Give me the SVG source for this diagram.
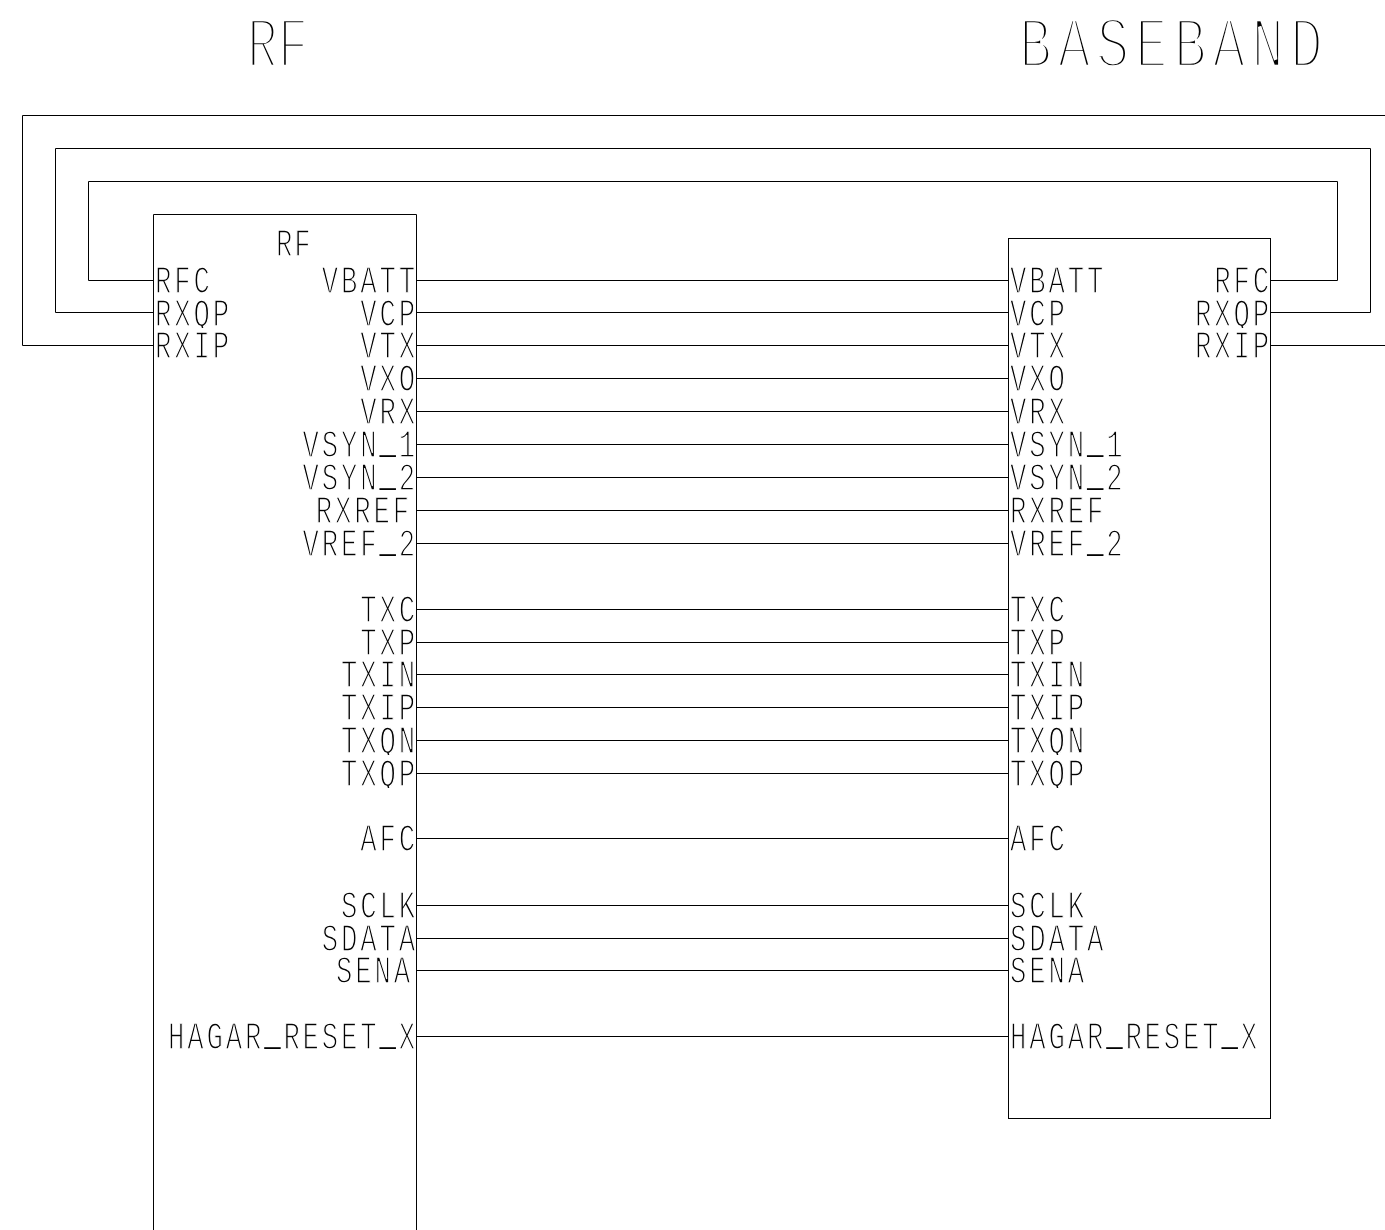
<svg xmlns="http://www.w3.org/2000/svg" width="1385" height="1230" viewBox="0 0 1385 1230">
<style>
text{font-family:"Liberation Mono",monospace;font-size:38px;letter-spacing:3.9px;fill:#000;stroke:#fff;stroke-width:1.5px;paint-order:fill stroke;clip-path:url(#row)}
.r{text-anchor:end}
.h{font-size:73px;letter-spacing:7.8px;stroke-width:4.4px;clip-path:none}
.t{letter-spacing:0;}
.u{stroke:none}
.n{opacity:.99}
.box,.w{fill:none;stroke:#000;stroke-width:1}
</style>
<defs><clipPath id="row"><rect x="-600" y="-28" width="1200" height="30"/></clipPath></defs>
<rect width="1385" height="1230" fill="#fff"/>
<g id="title-rf" class="n"><text class="h t" transform="translate(247 67) scale(.7 1)">RF</text></g>
<g id="title-baseband" class="n"><text class="h" transform="translate(1019 67) scale(.75 1)">BASEBAND</text></g>
<g id="rf-block" class="n">
<text style="letter-spacing:2.5px" transform="translate(276 256) scale(.72 1)">RF</text>
<g transform="translate(155 0)">
<text transform="translate(0 293) scale(.72 1)">RFC</text>
<text transform="translate(0 326) scale(.72 1)">RXQP</text>
<text transform="translate(0 358) scale(.72 1)">RXIP</text>
</g>
<g transform="translate(418 0)">
<text class="r" transform="translate(0 293) scale(.72 1)">VBATT</text>
<text class="r" transform="translate(0 326) scale(.72 1)">VCP</text>
<text class="r" transform="translate(0 358) scale(.72 1)">VTX</text>
<text class="r" transform="translate(0 391) scale(.72 1)">VXO</text>
<text class="r" transform="translate(0 424) scale(.72 1)">VRX</text>
<text class="r" transform="translate(0 457) scale(.72 1)">VSYN<tspan class="u" dy="-4">_</tspan><tspan dy="4">1</tspan></text>
<text class="r" transform="translate(0 490) scale(.72 1)">VSYN<tspan class="u" dy="-4">_</tspan><tspan dy="4">2</tspan></text>
<text class="r" transform="translate(-6 523) scale(.72 1)">RXREF</text>
<text class="r" transform="translate(0 556) scale(.72 1)">VREF<tspan class="u" dy="-4">_</tspan><tspan dy="4">2</tspan></text>
<text class="r" transform="translate(0 622) scale(.72 1)">TXC</text>
<text class="r" transform="translate(0 655) scale(.72 1)">TXP</text>
<text class="r" transform="translate(0 687) scale(.72 1)">TXIN</text>
<text class="r" transform="translate(0 720) scale(.72 1)">TXIP</text>
<text class="r" transform="translate(0 753) scale(.72 1)">TXQN</text>
<text class="r" transform="translate(0 786) scale(.72 1)">TXQP</text>
<text class="r" transform="translate(0 851) scale(.72 1)">AFC</text>
<text class="r" transform="translate(0 918) scale(.72 1)">SCLK</text>
<text class="r" transform="translate(0 951) scale(.72 1)">SDATA</text>
<text class="r" transform="translate(-5 983) scale(.72 1)">SENA</text>
<text class="r" transform="translate(0 1049) scale(.72 1)">HAGAR<tspan class="u" dy="-4">_</tspan><tspan dy="4">RESET</tspan><tspan class="u" dy="-4">_</tspan><tspan dy="4">X</tspan></text>
</g>
<path class="box" d="M153.5 1230V214.5H416.5V1230"/>
</g>
<g id="baseband-block" class="n">
<g transform="translate(1010 0)">
<text transform="translate(0 293) scale(.72 1)">VBATT</text>
<text transform="translate(0 326) scale(.72 1)">VCP</text>
<text transform="translate(0 358) scale(.72 1)">VTX</text>
<text transform="translate(0 391) scale(.72 1)">VXO</text>
<text transform="translate(0 424) scale(.72 1)">VRX</text>
<text transform="translate(0 457) scale(.72 1)">VSYN<tspan class="u" dy="-4">_</tspan><tspan dy="4">1</tspan></text>
<text transform="translate(0 490) scale(.72 1)">VSYN<tspan class="u" dy="-4">_</tspan><tspan dy="4">2</tspan></text>
<text transform="translate(0 523) scale(.72 1)">RXREF</text>
<text transform="translate(0 556) scale(.72 1)">VREF<tspan class="u" dy="-4">_</tspan><tspan dy="4">2</tspan></text>
<text transform="translate(0 622) scale(.72 1)">TXC</text>
<text transform="translate(0 655) scale(.72 1)">TXP</text>
<text transform="translate(0 687) scale(.72 1)">TXIN</text>
<text transform="translate(0 720) scale(.72 1)">TXIP</text>
<text transform="translate(0 753) scale(.72 1)">TXQN</text>
<text transform="translate(0 786) scale(.72 1)">TXQP</text>
<text transform="translate(0 851) scale(.72 1)">AFC</text>
<text transform="translate(0 918) scale(.72 1)">SCLK</text>
<text transform="translate(0 951) scale(.72 1)">SDATA</text>
<text transform="translate(0 983) scale(.72 1)">SENA</text>
<text transform="translate(0 1049) scale(.72 1)">HAGAR<tspan class="u" dy="-4">_</tspan><tspan dy="4">RESET</tspan><tspan class="u" dy="-4">_</tspan><tspan dy="4">X</tspan></text>
</g>
<g transform="translate(1272 0)">
<text class="r" transform="translate(0 293) scale(.72 1)">RFC</text>
<text class="r" transform="translate(0 326) scale(.72 1)">RXQP</text>
<text class="r" transform="translate(0 358) scale(.72 1)">RXIP</text>
</g>
<rect class="box" x="1008.5" y="238.5" width="262" height="880"/>
</g>
<g id="connectors">
<path class="w" d="M153.5 280.5H88.5V181.5H1337.5V280.5H1270.5"/>
<path class="w" d="M153.5 312.5H55.5V148.5H1370.5V312.5H1270.5"/>
<path class="w" d="M153.5 345.5H22.5V115.5H1385M1270.5 345.5H1385"/>
<path class="w" d="M416.5 280.5H1008.5M416.5 312.5H1008.5M416.5 345.5H1008.5M416.5 378.5H1008.5M416.5 411.5H1008.5M416.5 444.5H1008.5M416.5 477.5H1008.5M416.5 510.5H1008.5M416.5 543.5H1008.5M416.5 609.5H1008.5M416.5 642.5H1008.5M416.5 674.5H1008.5M416.5 707.5H1008.5M416.5 740.5H1008.5M416.5 773.5H1008.5M416.5 838.5H1008.5M416.5 905.5H1008.5M416.5 938.5H1008.5M416.5 970.5H1008.5M416.5 1036.5H1008.5"/>
</g>
</svg>
